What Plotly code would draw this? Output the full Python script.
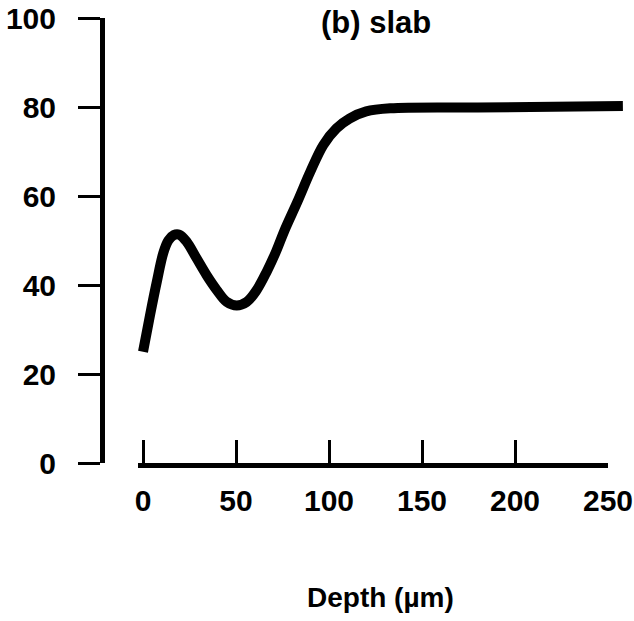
import plotly.graph_objects as go

# Data
depth = [0, 3.8, 7.4, 10.9, 13.6, 16.5, 19.5, 23.5, 28.8, 34.2, 39.6, 45, 50.4, 55.8, 61, 66.5, 71.5,
         76, 83, 90, 97, 104, 111, 120, 133, 180, 258]
value = [25, 33.3, 40.7, 47.2, 50.0, 51.2, 51.3, 49.7, 46, 42.2, 38.9, 36.2, 35.4, 36.2, 38.8, 43, 47.5,
         52.2, 58.7, 65.5, 71.5, 75.2, 77.4, 79, 79.7, 79.9, 80.2]
x_ticks = [0, 50, 100, 150, 200, 250]
y_ticks = [0, 20, 40, 60, 80, 100]

W, H = 634, 621
FAM = "Liberation Sans, Arial, sans-serif"
TICKFONT = dict(family=FAM, size=30, color="black", weight="bold")
TITLEFONT = dict(family=FAM, size=31, color="black", weight="bold")
LABELFONT = dict(family=FAM, size=28, color="black", weight="bold")

# pixel layout
x0_px, x1_px, xc_px = 138, 608, 625   # x axis line start/end, curve clip end
yb_px, yt_px = 463, 18                 # y=0 and y=100 rows
yax_px = 102                            # y axis line column
xmin = -2.7
xmax = 250
ppu = (x1_px - x0_px) / (xmax - xmin)
xmax2 = xmax + (xc_px - x1_px) / ppu

fig = go.Figure()
# invisible trace so the x axis (with line and ticks) is drawn
fig.add_trace(go.Scatter(
    x=depth, y=value, mode="lines", xaxis="x", yaxis="y",
    line=dict(color="rgba(0,0,0,0)", width=0),
    showlegend=False, hoverinfo="skip",
))
fig.add_trace(go.Scatter(
    x=depth, y=value, mode="lines", xaxis="x2", yaxis="y",
    line=dict(color="black", width=10, shape="spline", smoothing=1.0),
    showlegend=False, hoverinfo="skip",
))

fig.update_layout(
    template="none",
    width=W, height=H,
    margin=dict(l=0, r=0, t=0, b=0, pad=0),
    paper_bgcolor="white", plot_bgcolor="rgba(0,0,0,0)",
    xaxis=dict(
        domain=[x0_px / W, x1_px / W], range=[xmin, xmax], anchor="y",
        automargin=False,
        showline=True, linecolor="black", linewidth=5,
        tickmode="array", tickvals=x_ticks, ticktext=[str(v) for v in x_ticks],
        ticks="inside", ticklen=23, tickwidth=3, tickcolor="black",
        ticklabelstandoff=7,
        showgrid=False, zeroline=False, tickfont=TICKFONT,
    ),
    xaxis2=dict(
        domain=[x0_px / W, xc_px / W], range=[xmin, xmax2], anchor="y",
        automargin=False,
        visible=False, showgrid=False, zeroline=False,
    ),
    yaxis=dict(
        domain=[(H - yb_px) / H, (H - yt_px) / H], range=[0, 100],
        anchor="free", position=yax_px / W,
        automargin=False,
        showline=True, linecolor="black", linewidth=5,
        tickmode="array", tickvals=y_ticks, ticktext=[str(v) for v in y_ticks],
        ticks="outside", ticklen=22, tickwidth=3, tickcolor="black",
        ticklabelstandoff=16,
        showgrid=False, zeroline=False, tickfont=TICKFONT,
    ),
    annotations=[
        dict(text="(b) slab", x=376 / W, y=1 - 22 / H, xref="paper", yref="paper",
             showarrow=False, xanchor="center", yanchor="middle", font=TITLEFONT),
        dict(text="Depth (µm)", x=380 / W, y=1 - 597 / H, xref="paper", yref="paper",
             showarrow=False, xanchor="center", yanchor="middle", font=LABELFONT),
    ],
)

fig.write_html("out.html")
